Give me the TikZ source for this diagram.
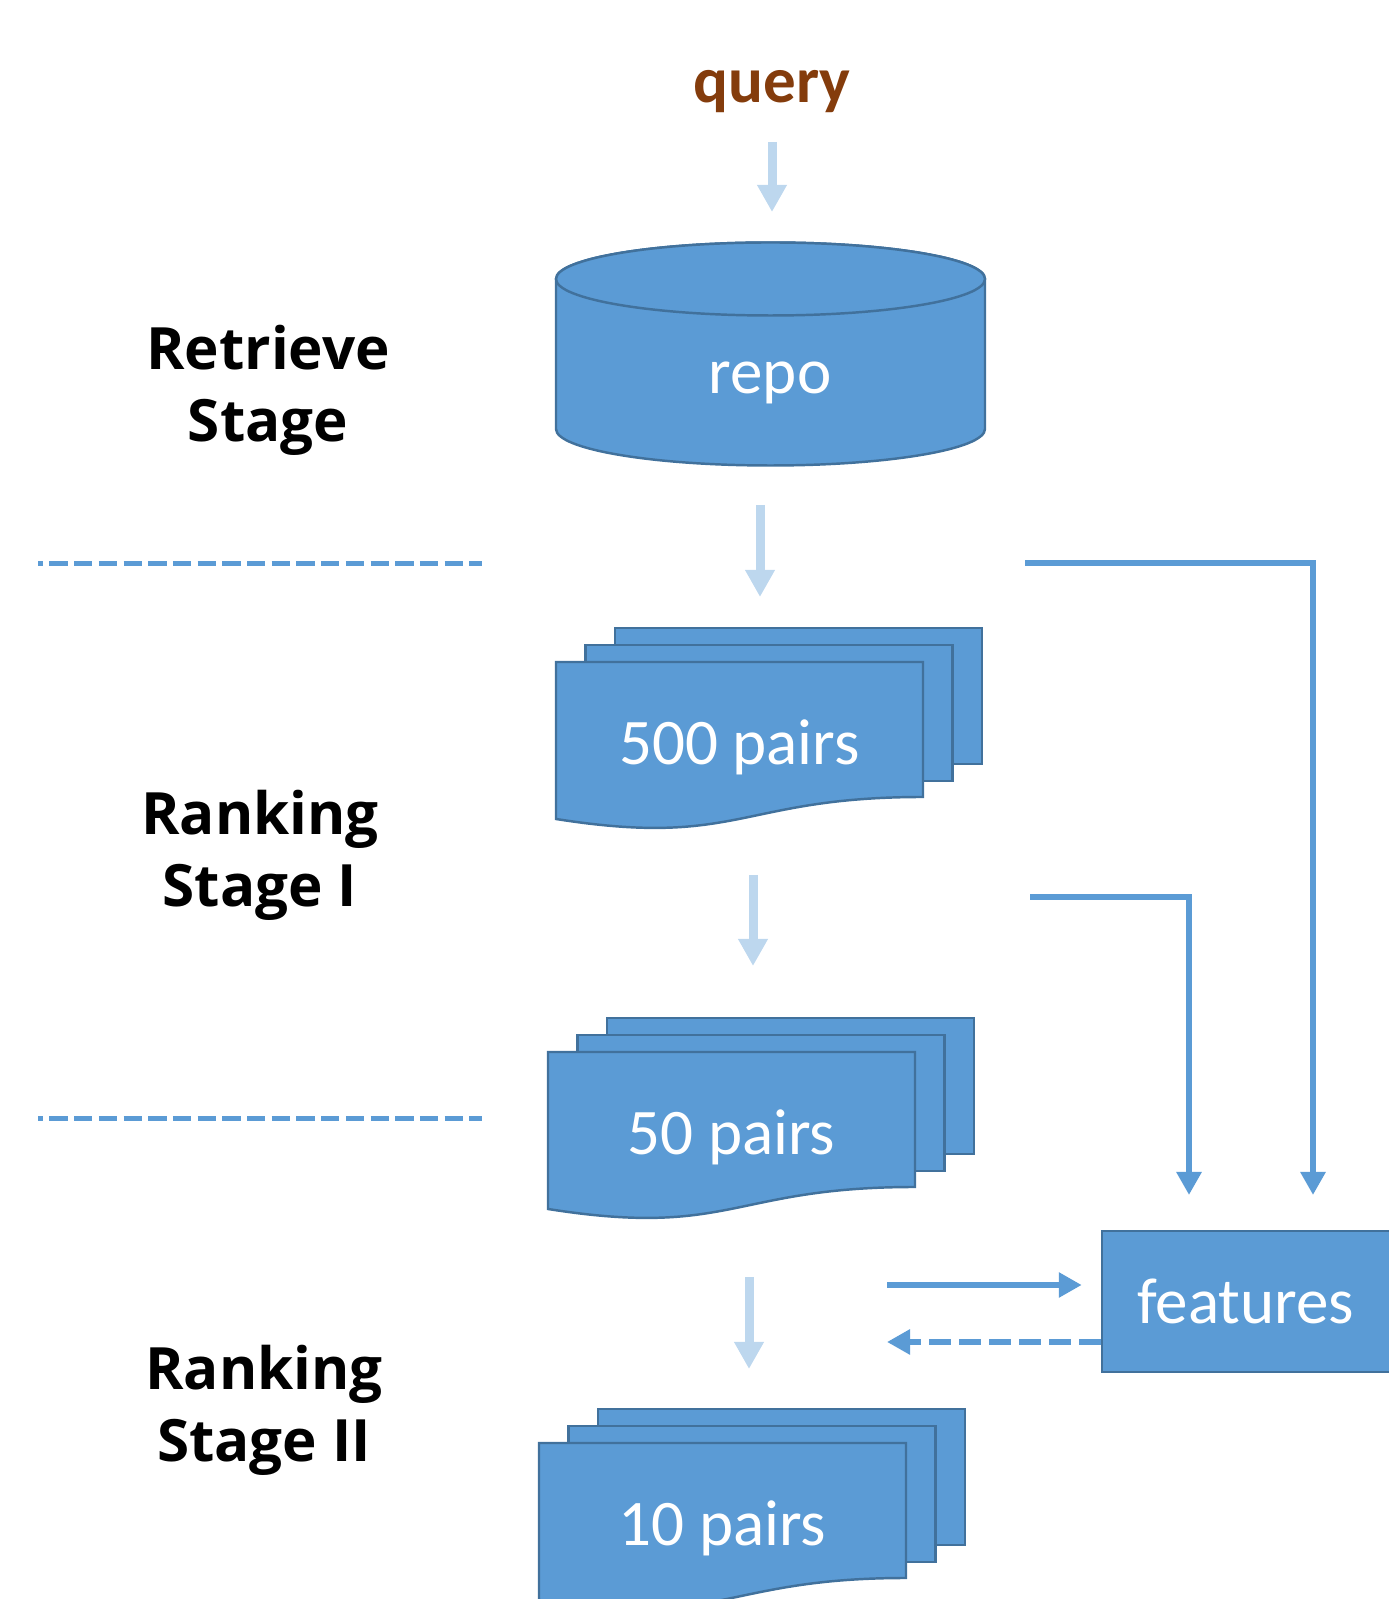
\documentclass[tikz,border=0pt]{standalone}
\usepackage{fontspec}
\setmainfont{Carlito}
\newfontfamily\stagefont{Open Sans}
\definecolor{repoblue}{RGB}{91,155,213}
\definecolor{repoedge}{RGB}{65,113,156}
\definecolor{flowlight}{RGB}{189,215,238}
\definecolor{querybrown}{RGB}{132,60,12}
\usetikzlibrary{arrows.meta,positioning,calc}
\tikzset{
  docfill/.style={fill=repoblue,draw=repoedge,line width=0.7pt},
  flowarr/.style={-{Triangle[length=2.7mm,width=2.8mm]},line width=0.9mm,flowlight},
  featarr/.style={-{Triangle[length=2.3mm,width=2.4mm]},line width=0.6mm,repoblue},
  sepline/.style={repoblue,line width=0.5mm,dash pattern=on 1.83mm off 0.64mm,dash phase=1.33mm},
  stagelbl/.style={font=\stagefont\bfseries\fontsize{16.6}{20.5}\selectfont,align=center,inner sep=0pt},
  boxtext/.style={text=white,font=\fontsize{18.5}{22}\selectfont,inner sep=0pt},
}
\begin{document}
\begin{tikzpicture}
  \useasboundingbox (0,0) rectangle (13.89,15.99);

  % stage labels and separators
  \node[stagelbl,anchor=base] (retrieve) at (2.68,11.57) {Retrieve\\Stage};
  \node[stagelbl,anchor=base] (rankone) at (2.60,6.92) {Ranking\\Stage I};
  \node[stagelbl,anchor=base] (ranktwo) at (2.64,1.37) {Ranking\\Stage II};
  \draw[sepline] (0.38,10.35) -- (4.82,10.35);
  \draw[sepline] (0.38,4.80) -- (4.82,4.80);

  % query and repository
  \node[font=\bfseries\fontsize{18.5}{22}\selectfont,text=querybrown,anchor=base,inner sep=0pt]
       (query) at (7.72,14.96) {query};
  \draw[docfill] (5.56,13.20) -- (5.56,11.70)
       arc[start angle=180,end angle=360,x radius=2.145,y radius=0.365]
       -- (9.85,13.20) arc[start angle=0,end angle=180,x radius=2.145,y radius=0.365] -- cycle;
  \draw[docfill] (7.705,13.20) ellipse[x radius=2.145,y radius=0.365];
  \node[boxtext,anchor=base] (repo) at (7.70,12.05) {repo};

  % stacks of pairs
  \foreach \x/\y/\nm/\txt in {5.56/9.37/pairsA/500 pairs, 5.48/5.47/pairsB/50 pairs,
                              5.39/1.56/pairsC/10 pairs}{
    \draw[docfill] (\x+0.59,\y+0.34) rectangle ++(3.67,-1.36);
    \draw[docfill] (\x+0.295,\y+0.17) rectangle ++(3.67,-1.36);
    \draw[docfill] (\x,\y) -- ++(3.67,0) -- ++(0,-1.35)
         .. controls (\x+1.835,\y-1.35) and (\x+1.835,\y-1.86) .. (\x,\y-1.57) -- cycle;
    \node[boxtext,anchor=base] (\nm) at (\x+1.835,\y-1.03) {\txt};
  }

  % features
  \node[fill=repoblue,draw=repoedge,line width=0.7pt,minimum width=2.88cm,
        minimum height=1.41cm,inner sep=0pt,text=white,font=\fontsize{18.5}{22}\selectfont]
       (features) at (12.46,2.975) {features};

  % flow arrows
  \coordinate (qtop) at (7.72,14.57);   \coordinate (qend) at (7.72,13.87);
  \coordinate (rtop) at (7.60,10.94);   \coordinate (rend) at (7.60,10.02);
  \coordinate (atop) at (7.53,7.24);    \coordinate (aend) at (7.53,6.33);
  \coordinate (btop) at (7.49,3.22);    \coordinate (bend) at (7.49,2.30);
  \draw[flowarr] (qtop) -- (qend);
  \draw[flowarr] (rtop) -- (rend);
  \draw[flowarr] (atop) -- (aend);
  \draw[flowarr] (btop) -- (bend);

  % feature links
  \coordinate (lkA) at (10.25,10.36);   \coordinate (lkAend) at (13.13,4.04);
  \coordinate (lkB) at (10.30,7.02);    \coordinate (lkBend) at (11.89,4.04);
  \coordinate (toF) at (8.87,3.14);     \coordinate (fromF) at (8.87,2.57);
  \draw[featarr] (lkA) -| (lkAend);
  \draw[featarr] (lkB) -| (lkBend);
  \draw[featarr] (toF) -- ($(toF -| features.west)+(-0.19,0)$);
  \draw[featarr,dash pattern=on 2.2mm off 0.8mm] (fromF -| features.west) -- (fromF);
\end{tikzpicture}
\end{document}
